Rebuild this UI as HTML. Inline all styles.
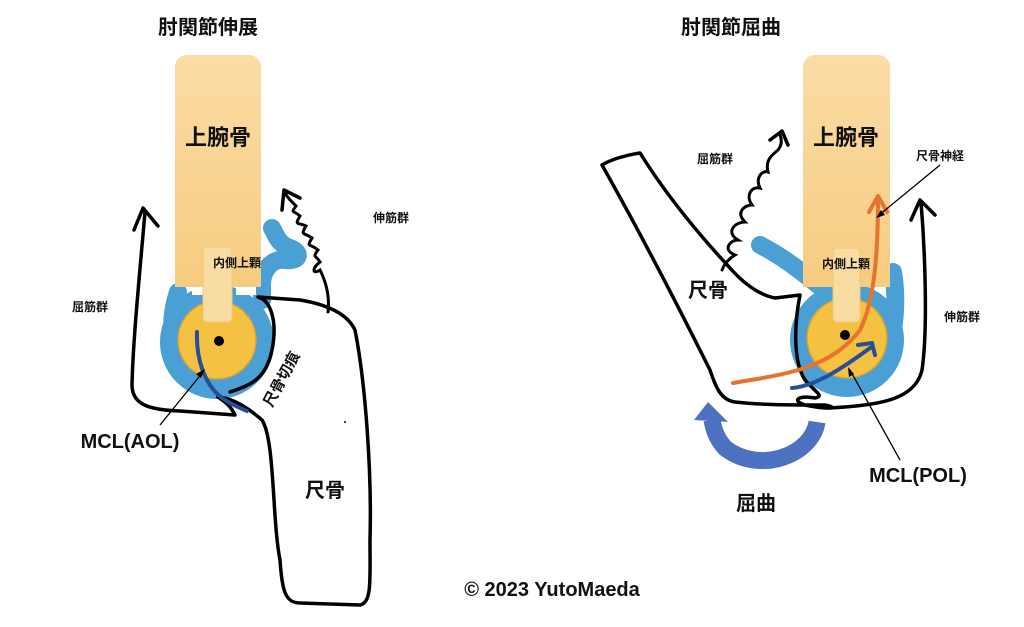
<!DOCTYPE html>
<html><head><meta charset="utf-8"><style>
html,body{margin:0;padding:0;background:#fff;}
svg{display:block;}
text{font-family:"Liberation Sans","Noto Sans CJK JP",sans-serif;font-weight:bold;fill:#111;}
</style></head><body>
<svg width="1024" height="627" viewBox="0 0 1024 627" xmlns="http://www.w3.org/2000/svg">
<defs>
<linearGradient id="hg" x1="0" y1="0" x2="0" y2="1">
<stop offset="0" stop-color="#fbdca6"/><stop offset="1" stop-color="#f6cc80"/>
</linearGradient>
</defs>
<text x="208" y="34" font-size="20" text-anchor="middle">肘関節伸展</text>
<text x="731" y="34" font-size="20" text-anchor="middle">肘関節屈曲</text>

<!-- LEFT -->
<!-- blue -->
<circle cx="217" cy="342" r="47" fill="none" stroke="#4a9fd4" stroke-width="20"/>
<path d="M178,292 C172,310 170,330 175,350 M262,300 L262,285 C262,270 272,258 285,260 C300,262 302,252 290,248 C278,244 276,235 272,228" fill="none" stroke="#4a9fd4" stroke-width="18" stroke-linecap="round" stroke-linejoin="round"/>
<rect x="175" y="55" width="86" height="232" rx="12" fill="url(#hg)"/>
<rect x="175" y="270" width="86" height="17" fill="#f6cc80"/>
<rect x="192" y="287" width="20" height="8" fill="#fff"/>
<rect x="236" y="287" width="20" height="8" fill="#fff"/>
<text x="218" y="145" font-size="22" text-anchor="middle">上腕骨</text>
<circle cx="217" cy="340" r="39" fill="#f4c142" stroke="#d6a236" stroke-width="1.5"/>
<rect x="203" y="247" width="29" height="75" rx="4" fill="#f9dca2" stroke="#efc978"/>
<text x="237" y="267" font-size="12" text-anchor="middle">内側上顆</text>
<circle cx="219" cy="341" r="5" fill="#000"/>
<!-- flexor arrow -->
<path d="M145,212 C140,270 133,340 132,385 C132,405 150,410 180,411 L235,415 C230,405 225,402 218,397" fill="none" stroke="#000" stroke-width="3.5" stroke-linecap="round" stroke-linejoin="round"/>
<path d="M134,230 L143,208 L158,226" fill="none" stroke="#000" stroke-width="3.5" stroke-linecap="round" stroke-linejoin="round"/>
<!-- ulna -->
<path d="M218,397 C230,398 245,405 262,420 C275,440 272,520 280,560 C282,590 285,603 300,603 L360,605 C372,603 370,580 370,540 C372,470 365,380 355,330 C348,315 330,305 300,300 L258,297 C270,300 278,320 272,350 C266,380 250,385 230,392" fill="none" stroke="#000" stroke-width="3.5" stroke-linecap="round" stroke-linejoin="round"/>
<circle cx="345" cy="422" r="1" fill="#000"/>
<!-- extensor coil -->
<path d="M328,312 C330,295 325,280 320,270 C312,275 312,268 320,262 C316,255 312,258 318,250 C310,243 306,248 312,238 C304,232 300,236 306,226 C298,222 294,226 300,216 C294,210 290,214 296,206 C290,200 286,196 285,192" fill="none" stroke="#000" stroke-width="3" stroke-linecap="round"/>
<path d="M282,210 L284,190 L300,198" fill="none" stroke="#000" stroke-width="3.5" stroke-linecap="round" stroke-linejoin="round"/>
<!-- MCL -->
<path d="M197,332 C196,360 205,385 222,398 C232,405 240,408 247,411" fill="none" stroke="#274f93" stroke-width="4" stroke-linecap="round"/>
<line x1="160" y1="425" x2="203" y2="372" stroke="#000" stroke-width="1.3"/>
<polygon points="205,369 196,374 201,378" fill="#000"/>
<text x="373" y="222" font-size="12">伸筋群</text>
<text x="72" y="311" font-size="12">屈筋群</text>
<text x="0" y="0" font-size="15" transform="translate(272,408) rotate(-62)">尺骨切痕</text>
<text x="325" y="497" font-size="20" text-anchor="middle">尺骨</text>
<text x="130" y="448" font-size="20" text-anchor="middle">MCL(AOL)</text>

<!-- RIGHT -->
<circle cx="847" cy="340" r="47" fill="none" stroke="#4a9fd4" stroke-width="20"/>
<path d="M760,245 C780,255 800,270 818,285 M893,330 C896,310 896,290 893,272" fill="none" stroke="#4a9fd4" stroke-width="18" stroke-linecap="round" stroke-linejoin="round"/>
<rect x="803" y="55" width="87" height="232" rx="12" fill="url(#hg)"/>
<rect x="803" y="270" width="87" height="17" fill="#f6cc80"/>
<text x="846" y="145" font-size="22" text-anchor="middle">上腕骨</text>
<circle cx="847" cy="338" r="40" fill="#f4c142" stroke="#d6a236" stroke-width="1.5"/>
<rect x="833" y="248" width="27" height="74" rx="4" fill="#f9dca2" stroke="#efc978"/>
<text x="846" y="268" font-size="12" text-anchor="middle">内側上顆</text>
<circle cx="845" cy="335" r="5" fill="#000"/>
<!-- ulna -->
<path d="M602,165 C610,160 625,155 640,153 C660,185 690,225 730,268 C745,285 760,295 775,298 L800,295 C795,320 792,360 805,380 C815,392 825,396 815,398 C800,395 790,400 805,405 C830,410 840,408 825,405 C790,405 760,405 735,402 C720,400 715,385 710,370 C690,330 650,250 602,165 Z" fill="none" stroke="#000" stroke-width="3.5" stroke-linejoin="round"/>
<!-- flexor coil right -->
<path d="M722,270 C725,262 730,258 735,255 C722,250 730,240 738,240 C725,232 735,222 745,222 C735,212 745,205 752,205 C745,195 752,186 760,188 C755,178 762,170 768,172 C765,160 772,155 778,150 C782,145 782,140 780,135" fill="none" stroke="#000" stroke-width="3" stroke-linecap="round"/>
<path d="M770,140 L782,131 L788,145" fill="none" stroke="#000" stroke-width="3.5" stroke-linecap="round" stroke-linejoin="round"/>
<!-- extensor arrow right -->
<path d="M921,202 C925,250 928,330 922,370 C915,400 880,405 830,408" fill="none" stroke="#000" stroke-width="3.5" stroke-linecap="round"/>
<path d="M911,220 L920,200 L935,215" fill="none" stroke="#000" stroke-width="3.5" stroke-linecap="round" stroke-linejoin="round"/>
<!-- orange nerve -->
<path d="M733,383 C780,375 830,370 860,330 C875,300 878,250 878,198" fill="none" stroke="#e8732c" stroke-width="4" stroke-linecap="round"/>
<path d="M869,212 L878,196 L887,212" fill="none" stroke="#e8732c" stroke-width="4" stroke-linecap="round" stroke-linejoin="round"/>
<!-- MCL right -->
<path d="M792,388 C815,386 840,370 870,348" fill="none" stroke="#274f93" stroke-width="4" stroke-linecap="round"/>
<path d="M858,345 L872,343 L875,355" fill="none" stroke="#274f93" stroke-width="4" stroke-linecap="round" stroke-linejoin="round"/>
<line x1="940" y1="165" x2="878" y2="216" stroke="#000" stroke-width="1.3"/>
<polygon points="876,218 885,215 881,210" fill="#000"/>
<line x1="900" y1="460" x2="850" y2="370" stroke="#000" stroke-width="1.3"/>
<polygon points="848,367 849,377 854,374" fill="#000"/>
<!-- flexion arrow -->
<path d="M817,422 C812,455 760,475 725,448 C718,440 714,432 712,420" fill="none" stroke="#4e72c2" stroke-width="17"/>
<polygon points="708,402 694,420 728,422" fill="#4e72c2"/>
<text x="697" y="163" font-size="12">屈筋群</text>
<text x="916" y="160" font-size="12">尺骨神経</text>
<text x="944" y="321" font-size="12">伸筋群</text>
<text x="708" y="297" font-size="20" text-anchor="middle">尺骨</text>
<text x="918" y="482" font-size="20" text-anchor="middle">MCL(POL)</text>
<text x="756" y="510" font-size="20" text-anchor="middle">屈曲</text>

<text x="552" y="596" font-size="20" text-anchor="middle">© 2023 YutoMaeda</text>
</svg>
</body></html>
